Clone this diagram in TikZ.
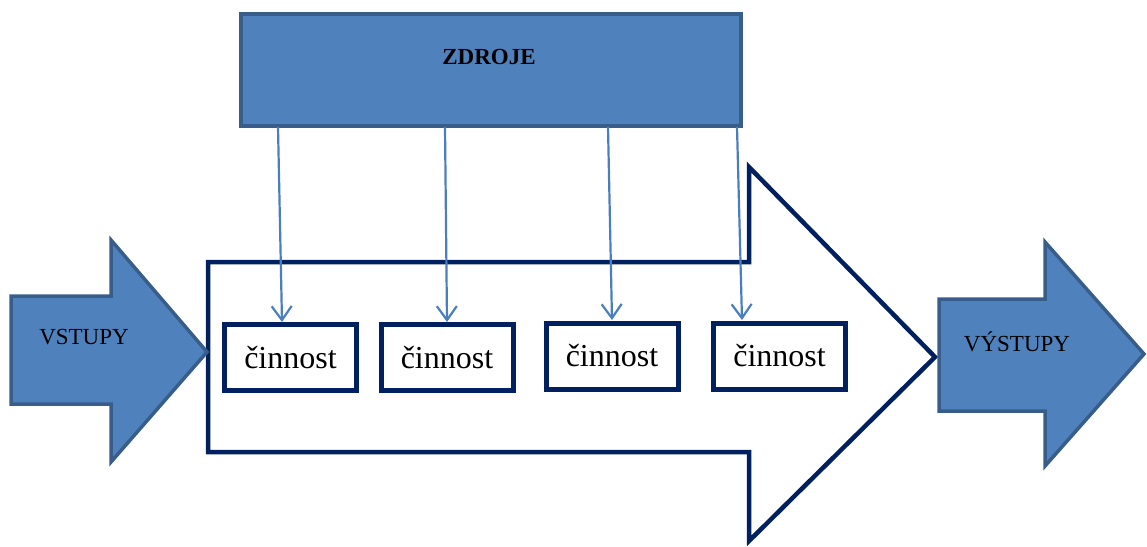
\documentclass[tikz,border=0pt]{standalone}
\usepackage{fontspec}
\setmainfont{Liberation Serif}
\usetikzlibrary{arrows.meta}
\definecolor{fillblue}{HTML}{4F81BD}
\definecolor{edgeblue}{HTML}{385D8A}
\definecolor{navy}{HTML}{002060}
\definecolor{linkblue}{HTML}{4A7EBF}
\tikzset{
  blueshape/.style={fill=fillblue, draw=edgeblue, line width=3.5pt, line join=miter},
  navyoutline/.style={draw=navy, line width=4.5pt, line join=miter, fill=white},
  actbox/.style={draw=navy, line width=5pt, fill=white, minimum width=132pt, minimum height=66pt, inner sep=0pt, font=\fontsize{32}{36}\selectfont},
  lbl/.style={font=\fontsize{23}{27}\selectfont, inner sep=0pt},
  link/.style={draw=linkblue, line width=2.2pt, -{Straight Barb[length=14pt,width=20pt,line width=2.2pt]}},
}
\begin{document}
\begin{tikzpicture}[x=1pt,y=-1pt]
\useasboundingbox (0,0) rectangle (1147,546);
% big outline arrow
\path[navyoutline] (208,262) -- (749,262) -- (749,167) -- (935,357) -- (749,541) -- (749,452) -- (208,452) -- cycle;
% VSTUPY arrow
\path[blueshape] (11,296) -- (111,296) -- (111,240) -- (207,352) -- (111,462) -- (111,404) -- (11,404) -- cycle;
\node[lbl] (vstupy) at (84,337) {VSTUPY};
% VYSTUPY arrow
\path[blueshape] (939,299) -- (1045,299) -- (1045,242) -- (1144,354) -- (1045,466) -- (1045,411) -- (939,411) -- cycle;
\node[lbl] (vystupy) at (1017,342) {VÝSTUPY};
% ZDROJE
\node[blueshape, minimum width=500pt, minimum height=112pt, inner sep=0pt] (zdroje) at (491,70) {};
\node[lbl, font=\bfseries\fontsize{23}{27}\selectfont] (ztext) at (489,57) {ZDROJE};
% activity boxes
\node[actbox] (b1) at (290.5,357.5) {činnost};
\node[actbox] (b2) at (447,357.5) {činnost};
\node[actbox] (b3) at (612,356) {činnost};
\node[actbox] (b4) at (779.5,356) {činnost};
% link coordinates
\coordinate (s1) at (278,127);
\coordinate (s2) at (445,127);
\coordinate (s3) at (608,127);
\coordinate (s4) at (737,127);
\coordinate (e1) at (282,322);
\coordinate (e2) at (447,322);
\coordinate (e3) at (612,320);
\coordinate (e4) at (742,320);
\draw[link] (s1) -- (e1);
\draw[link] (s2) -- (e2);
\draw[link] (s3) -- (e3);
\draw[link] (s4) -- (e4);
\end{tikzpicture}
\end{document}
